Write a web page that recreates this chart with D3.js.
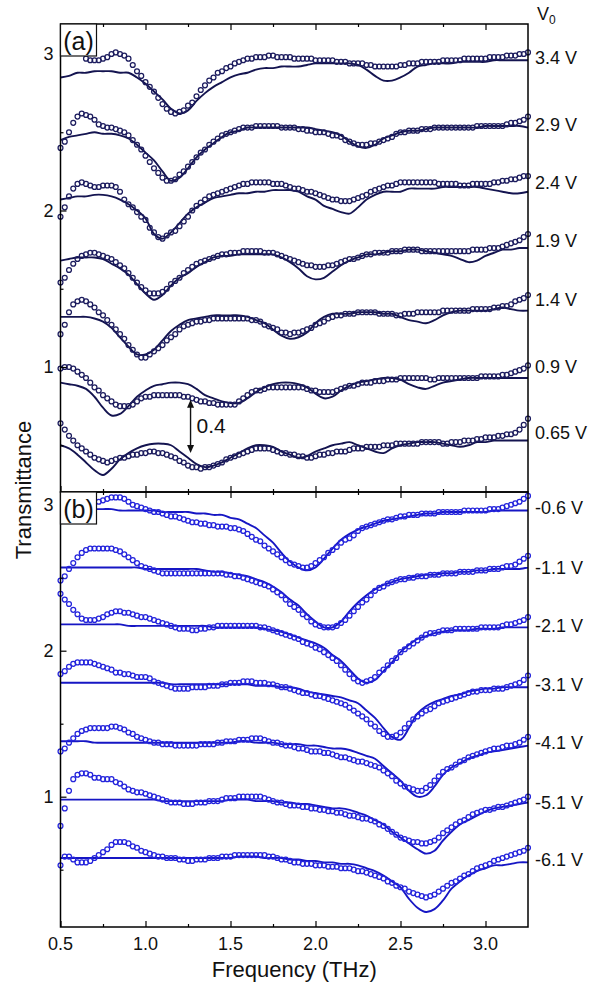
<!DOCTYPE html>
<html>
<head>
<meta charset="utf-8">
<script src="https://cdn.jsdelivr.net/npm/d3@7"></script>
<style>
  body { margin: 0; background: #fff; }
  text { font-family: "Liberation Sans", Arial, sans-serif; fill: #111; }
</style>
</head>
<body>
<div id="chart"></div>
<script>
// frequency grids (THz): measured points every 0.025, fit curves every 0.05
var measFreq = d3.range(111).map(function(i) { return 0.5 + i * 0.025; });
var fitFreq = d3.range(56).map(function(i) { return 0.5 + i * 0.05; });

// ---------- panel (a), positive bias ----------
var labelsA = ["3.4 V", "2.9 V", "2.4 V", "1.9 V", "1.4 V", "0.9 V", "0.65 V"];
var labelValA = [2.98, 2.55, 2.18, 1.81, 1.43, 1.00, 0.58];

var measA34 = [null,null,null,null,null,null,2.97,2.96,2.96,2.96, 2.97,2.98,3.00,3.01,3.00,2.99,2.97,2.93,2.89,2.86, 2.82,2.79,2.76,2.72,2.68,2.65,2.63,2.62,2.63,2.64, 2.67,2.69,2.73,2.77,2.80,2.83,2.85,2.88,2.89,2.91, 2.92,2.94,2.95,2.96,2.97,2.97,2.98,2.98,2.98,2.99, 2.99,2.98,2.98,2.98,2.98,2.97,2.97,2.97,2.97,2.97, 2.96,2.96,2.96,2.96,2.96,2.95,2.95,2.95,2.94,2.94, 2.94,2.94,2.93,2.93,2.92,2.92,2.92,2.92,2.92,2.92, 2.93,2.93,2.94,2.94,2.94,2.95,2.95,2.95,2.95,2.95, 2.96,2.96,2.96,2.96,2.96,2.97,2.97,2.97,2.97,2.97, 2.97,2.98,2.98,2.98,2.98,2.99,2.99,2.99,3.00,3.00, 3.01];
var fitA34 = [2.85,2.86,2.88,2.88,2.89,2.89,2.89,2.88,2.88,2.85, 2.81,2.76,2.71,2.65,2.62,2.64,2.70,2.75,2.79,2.82, 2.85,2.87,2.88,2.90,2.91,2.91,2.92,2.92,2.92,2.93, 2.94,2.94,2.94,2.94,2.94,2.93,2.90,2.86,2.83,2.83, 2.85,2.88,2.92,2.93,2.94,2.94,2.94,2.95,2.95,2.95, 2.95,2.96,2.96,2.96,2.96,2.96];

var measA29 = [2.40,2.44,2.50,2.56,2.60,2.62,2.61,2.60,2.58,2.55, 2.54,2.53,2.53,2.52,2.51,2.50,2.48,2.45,2.42,2.39, 2.35,2.31,2.27,2.24,2.21,2.19,2.19,2.20,2.23,2.25, 2.28,2.31,2.34,2.37,2.39,2.42,2.44,2.46,2.48,2.49, 2.50,2.51,2.52,2.53,2.53,2.53,2.54,2.54,2.54,2.54, 2.54,2.54,2.53,2.53,2.53,2.53,2.52,2.52,2.51,2.51, 2.50,2.50,2.50,2.49,2.48,2.48,2.47,2.45,2.44,2.43, 2.42,2.42,2.42,2.43,2.43,2.44,2.45,2.46,2.47,2.49, 2.50,2.50,2.51,2.51,2.51,2.52,2.52,2.52,2.53,2.53, 2.53,2.53,2.53,2.53,2.53,2.53,2.53,2.53,2.54,2.54, 2.54,2.54,2.54,2.54,2.54,2.55,2.56,2.56,2.57,2.58, 2.60];
var fitA29 = [2.45,2.47,2.48,2.49,2.50,2.49,2.49,2.48,2.46,2.42, 2.37,2.32,2.25,2.19,2.21,2.27,2.34,2.39,2.43,2.47, 2.50,2.51,2.53,2.53,2.53,2.53,2.53,2.53,2.53,2.53, 2.52,2.51,2.50,2.48,2.44,2.41,2.40,2.42,2.46,2.48, 2.50,2.51,2.51,2.52,2.53,2.53,2.53,2.53,2.53,2.53, 2.54,2.54,2.54,2.54,2.54,2.53];

var measA24 = [1.96,2.02,2.09,2.14,2.17,2.18,2.17,2.16,2.15,2.15, 2.16,2.16,2.16,2.15,2.12,2.07,2.04,2.02,1.99,1.96, 1.94,1.89,1.86,1.83,1.82,1.84,1.86,1.87,1.90,1.93, 1.96,2.00,2.03,2.05,2.07,2.09,2.10,2.11,2.12,2.13, 2.14,2.15,2.16,2.17,2.17,2.18,2.18,2.18,2.18,2.18, 2.17,2.17,2.17,2.16,2.15,2.14,2.14,2.13,2.12,2.12, 2.11,2.10,2.09,2.08,2.07,2.07,2.06,2.06,2.06,2.07, 2.08,2.09,2.10,2.12,2.13,2.14,2.15,2.16,2.16,2.17, 2.18,2.18,2.18,2.18,2.18,2.18,2.18,2.18,2.18,2.17, 2.17,2.17,2.17,2.17,2.16,2.16,2.16,2.17,2.17,2.17, 2.17,2.17,2.18,2.18,2.19,2.19,2.20,2.20,2.21,2.22, 2.22];
var fitA24 = [2.07,2.08,2.09,2.09,2.10,2.10,2.09,2.07,2.04,2.00, 1.95,1.85,1.82,1.86,1.92,1.98,2.02,2.05,2.08,2.09, 2.10,2.11,2.11,2.12,2.12,2.13,2.13,2.13,2.12,2.09, 2.07,2.03,2.01,1.99,1.98,2.02,2.07,2.10,2.12,2.12, 2.12,2.14,2.14,2.14,2.14,2.15,2.15,2.15,2.15,2.15, 2.14,2.13,2.12,2.11,2.11,2.12];

var measA19 = [1.54,1.57,1.62,1.66,1.69,1.71,1.72,1.73,1.73,1.72, 1.71,1.70,1.69,1.67,1.65,1.63,1.60,1.57,1.54,1.51, 1.49,1.47,1.47,1.47,1.48,1.50,1.53,1.55,1.57,1.60, 1.62,1.64,1.66,1.67,1.68,1.69,1.70,1.71,1.72,1.72, 1.73,1.73,1.73,1.74,1.74,1.74,1.74,1.74,1.73,1.73, 1.73,1.72,1.71,1.70,1.69,1.68,1.67,1.66,1.65,1.65, 1.64,1.64,1.64,1.65,1.65,1.66,1.67,1.68,1.69,1.69, 1.70,1.71,1.72,1.72,1.73,1.73,1.73,1.73,1.74,1.74, 1.74,1.75,1.75,1.75,1.75,1.74,1.74,1.74,1.74,1.74, 1.74,1.74,1.74,1.74,1.74,1.74,1.74,1.75,1.75,1.75, 1.75,1.76,1.76,1.76,1.77,1.78,1.79,1.80,1.81,1.83, 1.85];
var fitA19 = [1.68,1.69,1.70,1.70,1.70,1.69,1.66,1.63,1.59,1.53, 1.47,1.43,1.46,1.52,1.57,1.60,1.64,1.67,1.70,1.71, 1.71,1.72,1.72,1.72,1.72,1.72,1.70,1.67,1.63,1.58, 1.56,1.57,1.61,1.65,1.68,1.70,1.72,1.72,1.73,1.74, 1.74,1.75,1.75,1.74,1.73,1.72,1.71,1.69,1.67,1.68, 1.71,1.73,1.75,1.75,1.76,1.76];

var measA14 = [1.21,1.27,1.35,1.40,1.42,1.43,1.42,1.40,1.38,1.35, 1.33,1.30,1.27,1.24,1.21,1.18,1.14,1.11,1.08,1.06, 1.06,1.08,1.10,1.12,1.14,1.17,1.19,1.21,1.24,1.26, 1.27,1.28,1.29,1.29,1.30,1.30,1.31,1.31,1.31,1.31, 1.31,1.31,1.31,1.31,1.31,1.30,1.30,1.29,1.27,1.26, 1.25,1.24,1.22,1.22,1.21,1.22,1.22,1.23,1.24,1.25, 1.27,1.28,1.29,1.31,1.32,1.33,1.33,1.34,1.34,1.34, 1.35,1.35,1.35,1.35,1.35,1.34,1.34,1.34,1.34,1.33, 1.33,1.34,1.34,1.34,1.35,1.35,1.35,1.35,1.35,1.35, 1.36,1.36,1.36,1.36,1.36,1.36,1.36,1.37,1.37,1.37, 1.37,1.37,1.38,1.38,1.39,1.39,1.40,1.42,1.43,1.44, 1.46];
var fitA14 = [1.32,1.32,1.32,1.32,1.31,1.29,1.25,1.19,1.13,1.08, 1.08,1.11,1.17,1.23,1.27,1.30,1.31,1.32,1.33,1.33, 1.33,1.33,1.32,1.30,1.28,1.24,1.20,1.18,1.19,1.22, 1.28,1.32,1.34,1.34,1.34,1.35,1.35,1.35,1.34,1.34, 1.32,1.30,1.29,1.28,1.30,1.33,1.35,1.36,1.36,1.36, 1.36,1.37,1.38,1.37,1.36,1.36];

var measA09 = [0.99,1.00,1.00,0.99,0.97,0.95,0.93,0.90,0.87,0.85, 0.82,0.80,0.78,0.76,0.75,0.75,0.75,0.76,0.78,0.80, 0.81,0.81,0.82,0.82,0.82,0.82,0.82,0.82,0.82,0.81, 0.81,0.80,0.79,0.78,0.78,0.77,0.77,0.76,0.76,0.76, 0.76,0.76,0.78,0.80,0.82,0.84,0.85,0.85,0.86,0.87, 0.87,0.87,0.87,0.87,0.87,0.87,0.87,0.87,0.86,0.85, 0.85,0.84,0.84,0.84,0.84,0.85,0.86,0.87,0.88,0.88, 0.89,0.90,0.90,0.90,0.91,0.91,0.91,0.92,0.92,0.92, 0.93,0.93,0.93,0.93,0.93,0.93,0.93,0.92,0.92,0.93, 0.93,0.93,0.93,0.93,0.93,0.93,0.93,0.93,0.93,0.94, 0.94,0.94,0.94,0.94,0.95,0.95,0.96,0.97,0.98,0.99, 1.01];
var fitA09 = [0.90,0.89,0.88,0.86,0.81,0.74,0.69,0.70,0.75,0.81, 0.85,0.88,0.89,0.90,0.90,0.89,0.86,0.82,0.80,0.78, 0.77,0.77,0.80,0.84,0.87,0.89,0.90,0.90,0.89,0.87, 0.83,0.80,0.81,0.85,0.88,0.90,0.91,0.92,0.93,0.93, 0.92,0.89,0.87,0.86,0.88,0.90,0.91,0.92,0.93,0.93, 0.93,0.93,0.93,0.93,0.93,0.93];

var measA065 = [0.64,0.60,0.56,0.53,0.50,0.48,0.46,0.44,0.42,0.41, 0.40,0.39,0.40,0.41,0.42,0.42,0.43,0.44,0.44,0.45, 0.45,0.46,0.46,0.45,0.45,0.44,0.43,0.42,0.40,0.39, 0.37,0.36,0.36,0.35,0.36,0.36,0.37,0.38,0.39,0.41, 0.42,0.43,0.44,0.45,0.46,0.47,0.48,0.48,0.48,0.48, 0.47,0.46,0.45,0.45,0.44,0.44,0.43,0.43,0.42,0.42, 0.43,0.44,0.44,0.45,0.45,0.46,0.46,0.46,0.47,0.48, 0.48,0.48,0.49,0.49,0.49,0.49,0.50,0.50,0.50,0.51, 0.51,0.51,0.51,0.51,0.51,0.52,0.52,0.52,0.52,0.52, 0.51,0.51,0.52,0.52,0.52,0.53,0.53,0.53,0.54,0.54, 0.55,0.55,0.55,0.56,0.56,0.57,0.57,0.58,0.60,0.63, 0.67];
var fitA065 = [0.50,0.48,0.44,0.39,0.34,0.31,0.35,0.41,0.45,0.48, 0.50,0.51,0.51,0.50,0.46,0.42,0.38,0.36,0.37,0.39, 0.42,0.45,0.48,0.50,0.50,0.49,0.46,0.44,0.42,0.43, 0.46,0.48,0.50,0.51,0.52,0.50,0.48,0.46,0.45,0.48, 0.50,0.51,0.52,0.52,0.52,0.51,0.50,0.49,0.50,0.52, 0.52,0.53,0.53,0.53,0.53,0.53];

// ---------- panel (b), negative bias ----------
var labelsB = ["-0.6 V", "-1.1 V", "-2.1 V", "-3.1 V", "-4.1 V", "-5.1 V", "-6.1 V"];
var labelValB = [2.98, 2.57, 2.17, 1.77, 1.37, 0.96, 0.57];

var measB06 = [null,null,null,null,null,null,null,null,null,3.02, 3.03,3.04,3.05,3.05,3.05,3.04,3.02,3.00,2.99,2.98, 2.97,2.96,2.95,2.95,2.94,2.93,2.92,2.92,2.91,2.90, 2.89,2.88,2.88,2.87,2.87,2.86,2.86,2.85,2.85,2.85, 2.84,2.84,2.83,2.82,2.80,2.78,2.76,2.75,2.72,2.70, 2.68,2.66,2.64,2.62,2.60,2.59,2.58,2.57,2.57,2.58, 2.60,2.62,2.64,2.67,2.69,2.71,2.74,2.76,2.77,2.79, 2.82,2.84,2.85,2.86,2.87,2.88,2.89,2.90,2.90,2.91, 2.92,2.92,2.93,2.93,2.93,2.94,2.94,2.94,2.94,2.95, 2.95,2.95,2.95,2.95,2.95,2.96,2.96,2.96,2.96,2.96, 2.96,2.97,2.97,2.97,2.98,2.99,3.00,3.01,3.02,3.04, 3.06];
var fitB06 = [2.98,2.98,2.97,2.97,2.97,2.97,2.97,2.96,2.96,2.96, 2.96,2.96,2.95,2.95,2.95,2.95,2.94,2.94,2.93,2.93, 2.91,2.90,2.87,2.84,2.79,2.74,2.67,2.61,2.57,2.55, 2.57,2.63,2.70,2.76,2.80,2.83,2.85,2.87,2.89,2.90, 2.91,2.92,2.93,2.94,2.94,2.95,2.95,2.95,2.95,2.95, 2.95,2.96,2.96,2.96,2.96,2.96];

var measB11 = [2.48,2.51,2.56,2.60,2.64,2.67,2.69,2.70,2.70,2.70, 2.70,2.70,2.70,2.69,2.68,2.66,2.64,2.62,2.60,2.58, 2.57,2.56,2.55,2.54,2.53,2.53,2.53,2.53,2.53,2.53, 2.53,2.53,2.53,2.53,2.53,2.53,2.53,2.53,2.53,2.52, 2.52,2.51,2.51,2.50,2.49,2.48,2.47,2.46,2.45,2.44, 2.42,2.40,2.38,2.35,2.32,2.30,2.28,2.25,2.23,2.20, 2.18,2.17,2.16,2.16,2.16,2.17,2.19,2.21,2.24,2.27, 2.30,2.33,2.35,2.38,2.41,2.43,2.44,2.46,2.47,2.48, 2.49,2.49,2.50,2.50,2.51,2.51,2.51,2.52,2.52,2.52, 2.53,2.53,2.53,2.53,2.54,2.54,2.54,2.54,2.55,2.55, 2.55,2.56,2.56,2.56,2.57,2.58,2.58,2.59,2.61,2.63, 2.65];
var fitB11 = [2.57,2.57,2.57,2.57,2.57,2.57,2.57,2.57,2.57,2.57, 2.56,2.56,2.56,2.56,2.56,2.56,2.56,2.55,2.54,2.54, 2.53,2.52,2.51,2.49,2.47,2.44,2.40,2.35,2.31,2.25, 2.20,2.16,2.16,2.20,2.27,2.33,2.38,2.42,2.45,2.47, 2.49,2.50,2.51,2.52,2.52,2.53,2.53,2.54,2.54,2.55, 2.55,2.56,2.56,2.56,2.56,2.57];

var measB21 = [2.39,2.35,2.32,2.28,2.25,2.22,2.21,2.21,2.21,2.22, 2.23,2.25,2.26,2.27,2.27,2.26,2.26,2.25,2.24,2.23, 2.23,2.22,2.21,2.20,2.19,2.18,2.17,2.16,2.15,2.15, 2.15,2.14,2.14,2.15,2.15,2.16,2.16,2.17,2.17,2.17, 2.17,2.17,2.17,2.17,2.17,2.17,2.17,2.16,2.16,2.15, 2.14,2.13,2.12,2.11,2.10,2.09,2.08,2.06,2.05,2.04, 2.02,2.01,1.99,1.97,1.95,1.93,1.90,1.87,1.84,1.81, 1.79,1.78,1.79,1.80,1.82,1.85,1.87,1.90,1.93,1.95, 1.99,2.01,2.03,2.05,2.07,2.09,2.11,2.12,2.12,2.13, 2.14,2.14,2.14,2.15,2.15,2.15,2.15,2.15,2.15,2.16, 2.16,2.16,2.16,2.16,2.17,2.18,2.18,2.19,2.20,2.21, 2.23];
var fitB21 = [2.18,2.18,2.18,2.18,2.18,2.18,2.18,2.18,2.17,2.17, 2.17,2.17,2.17,2.17,2.17,2.17,2.17,2.17,2.16,2.16, 2.16,2.16,2.16,2.16,2.15,2.14,2.13,2.11,2.09,2.07, 2.05,2.02,1.97,1.93,1.87,1.81,1.78,1.80,1.86,1.92, 1.99,2.04,2.08,2.10,2.12,2.13,2.14,2.14,2.14,2.15, 2.15,2.15,2.16,2.16,2.16,2.16];

var measB31 = [1.84,1.86,1.89,1.91,1.92,1.92,1.92,1.92,1.91,1.90, 1.89,1.88,1.87,1.85,1.85,1.84,1.84,1.83,1.82,1.82, 1.82,1.81,1.79,1.78,1.77,1.76,1.75,1.74,1.74,1.74, 1.74,1.75,1.75,1.75,1.75,1.76,1.76,1.76,1.77,1.77, 1.78,1.78,1.78,1.79,1.79,1.79,1.78,1.78,1.78,1.77, 1.77,1.76,1.75,1.75,1.74,1.73,1.72,1.71,1.71,1.70, 1.69,1.69,1.68,1.67,1.66,1.65,1.64,1.63,1.61,1.59, 1.57,1.55,1.53,1.50,1.48,1.45,1.43,1.41,1.41,1.42, 1.44,1.47,1.50,1.53,1.55,1.57,1.59,1.60,1.62,1.64, 1.65,1.66,1.67,1.68,1.69,1.70,1.71,1.72,1.72,1.73, 1.73,1.73,1.74,1.74,1.74,1.75,1.76,1.77,1.78,1.80, 1.83];
var fitB31 = [1.78,1.78,1.78,1.78,1.78,1.78,1.78,1.78,1.78,1.78, 1.78,1.78,1.78,1.77,1.77,1.77,1.77,1.77,1.77,1.77, 1.77,1.77,1.77,1.76,1.76,1.76,1.75,1.75,1.74,1.72, 1.71,1.70,1.69,1.68,1.66,1.64,1.59,1.54,1.47,1.41, 1.39,1.47,1.57,1.62,1.65,1.67,1.69,1.70,1.72,1.73, 1.74,1.74,1.75,1.75,1.75,1.75];

var measB41 = [1.31,1.33,1.37,1.40,1.43,1.45,1.46,1.47,1.47,1.47, 1.47,1.47,1.48,1.48,1.47,1.46,1.44,1.43,1.41,1.40, 1.39,1.38,1.37,1.37,1.36,1.36,1.36,1.35,1.35,1.35, 1.35,1.35,1.35,1.36,1.36,1.36,1.36,1.37,1.37,1.38, 1.38,1.38,1.39,1.39,1.39,1.40,1.40,1.40,1.39,1.38, 1.37,1.37,1.36,1.35,1.35,1.34,1.33,1.33,1.32,1.31, 1.31,1.31,1.30,1.30,1.29,1.28,1.27,1.27,1.26,1.25, 1.24,1.24,1.23,1.22,1.21,1.20,1.18,1.16,1.14,1.11, 1.09,1.07,1.06,1.05,1.04,1.04,1.06,1.08,1.11,1.14, 1.17,1.19,1.20,1.22,1.24,1.25,1.27,1.28,1.29,1.30, 1.31,1.32,1.33,1.33,1.34,1.35,1.35,1.36,1.37,1.39, 1.41];
var fitB41 = [1.38,1.38,1.38,1.38,1.37,1.37,1.37,1.37,1.37,1.37, 1.37,1.37,1.37,1.37,1.37,1.37,1.37,1.37,1.37,1.37, 1.37,1.38,1.38,1.37,1.37,1.37,1.36,1.36,1.36,1.35, 1.35,1.34,1.33,1.33,1.32,1.30,1.28,1.26,1.21,1.16, 1.11,1.04,1.00,1.01,1.07,1.15,1.20,1.23,1.26,1.28, 1.30,1.31,1.32,1.33,1.34,1.35];

var measB51 = [0.80,0.92,1.04,1.12,1.15,1.16,1.16,1.15,1.13,1.13, 1.12,1.12,1.12,1.10,1.09,1.07,1.05,1.04,1.03,1.03, 1.02,1.01,1.00,0.99,0.98,0.97,0.96,0.96,0.96,0.95, 0.95,0.95,0.96,0.96,0.96,0.97,0.97,0.97,0.98,0.99, 0.99,0.99,1.00,1.00,1.00,1.00,1.00,1.00,0.99,0.98, 0.97,0.96,0.96,0.95,0.94,0.94,0.94,0.93,0.93,0.92, 0.92,0.91,0.91,0.90,0.90,0.89,0.89,0.88,0.87,0.87, 0.86,0.85,0.85,0.84,0.83,0.81,0.80,0.78,0.76,0.74, 0.72,0.71,0.70,0.69,0.69,0.68,0.68,0.69,0.70,0.72, 0.75,0.77,0.79,0.81,0.83,0.84,0.86,0.88,0.89,0.90, 0.91,0.91,0.92,0.93,0.93,0.94,0.95,0.96,0.97,0.98, 1.00];
var fitB51 = [0.98,0.98,0.98,0.98,0.98,0.98,0.98,0.98,0.98,0.98, 0.98,0.98,0.97,0.97,0.97,0.97,0.97,0.97,0.97,0.97, 0.98,0.98,0.98,0.97,0.97,0.97,0.96,0.96,0.95,0.95, 0.94,0.93,0.92,0.92,0.91,0.89,0.87,0.84,0.81,0.76, 0.72,0.68,0.64,0.61,0.63,0.70,0.76,0.81,0.84,0.87, 0.90,0.92,0.93,0.94,0.95,0.96];

var measB61 = [0.53,0.59,0.59,0.57,0.55,0.55,0.55,0.56,0.58,0.60, 0.62,0.64,0.67,0.69,0.69,0.69,0.68,0.66,0.65,0.63, 0.62,0.61,0.60,0.59,0.59,0.58,0.58,0.58,0.57,0.57, 0.56,0.56,0.57,0.57,0.57,0.58,0.58,0.58,0.59,0.59, 0.59,0.60,0.60,0.60,0.60,0.60,0.60,0.60,0.60,0.59, 0.59,0.58,0.57,0.57,0.56,0.55,0.55,0.54,0.54,0.54, 0.53,0.53,0.53,0.52,0.52,0.52,0.51,0.51,0.51,0.50, 0.49,0.49,0.48,0.47,0.46,0.45,0.44,0.42,0.41,0.39, 0.38,0.37,0.35,0.34,0.33,0.32,0.31,0.32,0.33,0.35, 0.37,0.39,0.41,0.42,0.44,0.46,0.47,0.49,0.51,0.52, 0.53,0.54,0.56,0.57,0.58,0.59,0.60,0.61,0.62,0.63, 0.65];
var fitB61 = [0.58,0.58,0.58,0.58,0.58,0.58,0.58,0.58,0.58,0.58, 0.58,0.58,0.58,0.58,0.58,0.58,0.58,0.58,0.58,0.58, 0.58,0.59,0.59,0.59,0.58,0.58,0.58,0.57,0.57,0.56, 0.56,0.55,0.55,0.54,0.54,0.53,0.51,0.49,0.46,0.42, 0.38,0.30,0.24,0.21,0.23,0.29,0.37,0.42,0.46,0.49, 0.51,0.53,0.53,0.54,0.55,0.55];

// offset marker in panel (a)
var arrowFreq = 1.265, arrowFrom = 0.79, arrowTo = 0.45;

var measA = [measA34, measA29, measA24, measA19, measA14, measA09, measA065];
var fitA = [fitA34, fitA29, fitA24, fitA19, fitA14, fitA09, fitA065];
var measB = [measB06, measB11, measB21, measB31, measB41, measB51, measB61];
var fitB = [fitB06, fitB11, fitB21, fitB31, fitB41, fitB51, fitB61];

var W = 603, H = 988;
var left = 60.5, right = 528;

var svg = d3.select("#chart").append("svg")
  .attr("width", W)
  .attr("height", H);

var x = d3.scaleLinear().domain([0.5, 3.25]).range([left, right]);

var panels = [
  { tag: "(a)", top: 24, bottom: 492, domain: [0.2013, 3.1917],
    meas: measA, fit: fitA, labels: labelsA, labelVal: labelValA,
    lineColor: "#141450", dotColor: "#1c1c5e" },
  { tag: "(b)", top: 492, bottom: 927, domain: [0.1075, 3.087],
    meas: measB, fit: fitB, labels: labelsB, labelVal: labelValB,
    lineColor: "#1616c4", dotColor: "#2424dc" }
];

var majorX = [0.5, 1.0, 1.5, 2.0, 2.5, 3.0];
var minorX = [0.75, 1.25, 1.75, 2.25, 2.75];

panels.forEach(function(p) {
  var y = d3.scaleLinear().domain(p.domain).range([p.bottom, p.top]);
  p.y = y;
  var g = svg.append("g");

  var line = d3.line()
    .defined(function(d) { return d[1] != null; })
    .x(function(d) { return x(d[0]); })
    .y(function(d) { return y(d[1]); })
    .curve(d3.curveCatmullRom.alpha(0.5));

  // fits
  p.fit.forEach(function(vals) {
    var pts = vals.map(function(v, i) { return [fitFreq[i], v]; });
    g.append("path")
      .attr("d", line(pts))
      .attr("fill", "none")
      .attr("stroke", p.lineColor)
      .attr("stroke-width", 1.9);
  });

  // measured points
  p.meas.forEach(function(vals) {
    var pts = vals.map(function(v, i) { return [measFreq[i], v]; })
      .filter(function(d) { return d[1] != null; });
    g.selectAll(null).data(pts).enter().append("circle")
      .attr("cx", function(d) { return x(d[0]); })
      .attr("cy", function(d) { return y(d[1]); })
      .attr("r", 2.45)
      .attr("fill", "none")
      .attr("stroke", p.dotColor)
      .attr("stroke-width", 1.25);
  });

  // axes with inward ticks
  var ax = svg.append("g");
  function xAxis(gen, ypos, size, vals) {
    ax.append("g")
      .attr("transform", "translate(0," + ypos + ")")
      .call(gen(x).tickValues(vals).tickSizeInner(size).tickSizeOuter(0).tickFormat(""))
      .call(function(s) { s.select(".domain").remove(); });
  }
  xAxis(d3.axisTop, p.top, -6, majorX);
  xAxis(d3.axisTop, p.top, -3, minorX);
  xAxis(d3.axisBottom, p.bottom, -6, majorX);
  xAxis(d3.axisBottom, p.bottom, -3, minorX);

  var yl = ax.append("g")
    .attr("transform", "translate(" + left + ",0)")
    .call(d3.axisLeft(y).tickValues([1, 2, 3]).tickSizeInner(-6).tickSizeOuter(0).tickPadding(7).tickFormat(d3.format("d")));
  yl.select(".domain").remove();
  yl.selectAll("text").attr("font-size", 18).attr("fill", "#111")
    .style("font-family", '"Liberation Sans", Arial, sans-serif');
  ax.append("g")
    .attr("transform", "translate(" + left + ",0)")
    .call(d3.axisLeft(y).tickValues([0.5, 1.5, 2.5]).tickSizeInner(-3).tickSizeOuter(0).tickFormat(""))
    .call(function(s) { s.select(".domain").remove(); });

  ax.selectAll(".tick line").attr("stroke", "#000").attr("stroke-width", 1.2);

  // frame
  ax.append("rect")
    .attr("x", left).attr("y", p.top)
    .attr("width", right - left).attr("height", p.bottom - p.top)
    .attr("fill", "none").attr("stroke", "#000").attr("stroke-width", 1.5);

  // panel tag box
  ax.append("rect")
    .attr("x", left).attr("y", p.top)
    .attr("width", 36).attr("height", 32)
    .attr("fill", "#fff").attr("stroke", "#111").attr("stroke-width", 1.2);
  ax.append("text")
    .attr("x", left + 18).attr("y", p.top + 26)
    .attr("text-anchor", "middle")
    .attr("font-size", 25)
    .text(p.tag);

  // voltage labels on the right
  p.labels.forEach(function(t, i) {
    ax.append("text")
      .attr("x", 535)
      .attr("y", y(p.labelVal[i]))
      .attr("dy", "0.36em")
      .attr("font-size", 18)
      .text(t);
  });
});

// bottom tick labels
var xl = svg.append("g");
majorX.forEach(function(v) {
  xl.append("text")
    .attr("x", x(v)).attr("y", 950)
    .attr("text-anchor", "middle")
    .attr("font-size", 18)
    .text(d3.format(".1f")(v));
});

// axis titles
svg.append("text")
  .attr("x", (left + right) / 2).attr("y", 977)
  .attr("text-anchor", "middle")
  .attr("font-size", 22)
  .text("Frequency (THz)");

svg.append("text")
  .attr("transform", "translate(31,490) rotate(-90)")
  .attr("text-anchor", "middle")
  .attr("font-size", 22)
  .text("Transmittance");

// V0 header
var v0 = svg.append("text").attr("x", 537).attr("y", 20).attr("font-size", 18);
v0.append("tspan").text("V");
v0.append("tspan").attr("font-size", 12).attr("dy", 4).text("0");

// offset arrow in panel (a)
var yA = panels[0].y;
var ax0 = x(arrowFreq), ay1 = yA(arrowFrom), ay2 = yA(arrowTo);
svg.append("line")
  .attr("x1", ax0).attr("x2", ax0)
  .attr("y1", ay1 + 7).attr("y2", ay2 - 7)
  .attr("stroke", "#111").attr("stroke-width", 1.4);
svg.append("path")
  .attr("d", "M" + ax0 + "," + ay1 + "l-3.5,8h7z")
  .attr("fill", "#111");
svg.append("path")
  .attr("d", "M" + ax0 + "," + ay2 + "l-3.5,-8h7z")
  .attr("fill", "#111");
svg.append("text")
  .attr("x", ax0 + 6).attr("y", (ay1 + ay2) / 2 + 7)
  .attr("font-size", 21)
  .text("0.4");
</script>
</body>
</html>
